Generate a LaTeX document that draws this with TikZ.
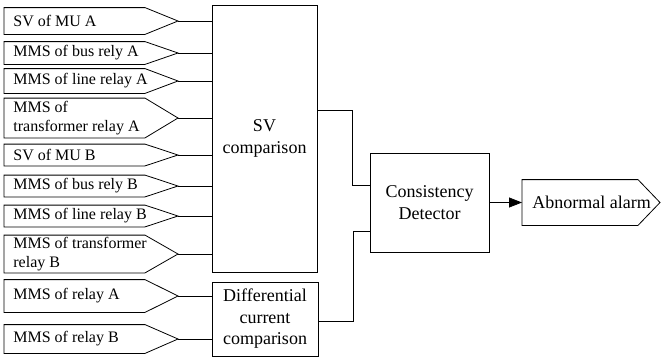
\documentclass[tikz,border=0pt]{standalone}
\usepackage{fontspec}
\setmainfont{Liberation Serif}
\usetikzlibrary{arrows.meta, positioning}

\tikzset{
  inbox/.style={anchor=west, inner xsep=9pt, inner ysep=0pt, text width=150pt, align=flush left, font=\fontsize{16}{19.5}\selectfont},
  block/.style={draw, align=center, inner sep=0pt, font=\fontsize{18}{21.5}\selectfont},
}

\begin{document}
\begin{tikzpicture}[x=1pt, y=-1pt, line width=0.8pt]
\useasboundingbox (0,0) rectangle (661,360);

\coordinate (rx) at (145,0);
\coordinate (tx) at (178,0);
\coordinate (jA) at (352,0);
\coordinate (jB) at (353,0);

% inputs
\node[inbox, minimum height=26pt] (svA) at (4,21) {SV of MU A};
\node[inbox, minimum height=22pt] (busA) at (4,53) {MMS of bus rely A};
\node[inbox, minimum height=24pt] (lineA) at (4,81) {MMS of line relay A};
\node[inbox, minimum height=39pt] (trA) at (4,118) {MMS of\\transformer relay A};
\node[inbox, minimum height=21pt] (svB) at (4,155) {SV of MU B};
\node[inbox, minimum height=21pt] (busB) at (4,186) {MMS of bus rely B};
\node[inbox, minimum height=21pt] (lineB) at (4,216) {MMS of line relay B};
\node[inbox, minimum height=37pt] (trB) at (4,254) {MMS of transformer\\relay B};
\node[inbox, minimum height=32pt] (relA) at (4,296) {MMS of relay A};
\node[inbox, minimum height=28pt] (relB) at (4,339) {MMS of relay B};

% blocks
\node[block, minimum width=105pt, minimum height=267pt] (svcmp) at (264.5,138.5) {SV\\comparison};
\node[block, minimum width=106pt, minimum height=74pt] (diffcmp) at (265,319) {Differential\\current\\comparison};
\node[block, minimum width=119pt, minimum height=99pt] (cons) at (429.5,202.5) {Consistency\\Detector};
\node[anchor=west, inner xsep=10pt, inner ysep=0pt, minimum height=45pt, font=\fontsize{18}{21.5}\selectfont] (alarm) at (522,202.5) {Abnormal alarm};
\draw (alarm.north west) -- (alarm.north west -| 638,0) -- (660,202.5) -- (alarm.south west -| 638,0) -- (alarm.south west) -- cycle;

\foreach \n in {svA, busA, lineA, trA, svB, busB, lineB, trB} {
  \draw (\n.north west) -- (\n.north west -| rx) -- (\n.west -| tx) -- (\n.south west -| rx) -- (\n.south west) -- cycle;
  \draw (\n.west -| tx) -- (svcmp.west |- \n.west);
}
\foreach \n in {relA, relB} {
  \draw (\n.north west) -- (\n.north west -| rx) -- (\n.west -| tx) -- (\n.south west -| rx) -- (\n.south west) -- cycle;
  \draw (\n.west -| tx) -- (diffcmp.west |- \n.west);
}

\draw (svcmp.east |- 0,110) -| (jA |- 0,185) -- (cons.west |- 0,185);
\draw (diffcmp.east |- 0,321) -| (jB |- 0,231) -- (cons.west |- 0,231);
\draw[-{Triangle[length=13pt, width=10pt]}] (cons.east) -- (alarm.west);
\end{tikzpicture}
\end{document}
